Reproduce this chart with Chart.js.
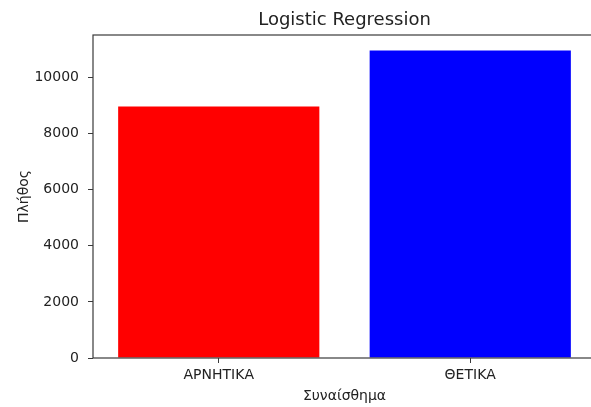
<!DOCTYPE html>
<html>
<head>
<meta charset="utf-8">
<script src="https://cdn.jsdelivr.net/npm/chart.js@4/dist/chart.umd.min.js"></script>
<style>
  html, body { margin: 0; padding: 0; overflow: hidden; background: #fff; }
</style>
</head>
<body>
<canvas id="myChart" width="604" height="407"></canvas>
<script>
// values
const categories = ['ΑΡΝΗΤΙΚΑ', 'ΘΕΤΙΚΑ'];
const counts = [8960, 10960];
const barColors = ['#ff0000', '#0000ff'];
const yTicks = [0, 2000, 4000, 6000, 8000, 10000];
const chartTitle = 'Logistic Regression';

const FONT = "'DejaVu Sans', sans-serif";
const TEXT = '#222';
const SPINE = '#3a3a3a';

// box round the plot area + title centred over the axes (matplotlib style)
const spines = {
  id: 'spines',
  afterDatasetsDraw(chart) {
    const { ctx, chartArea: a } = chart;
    ctx.save();
    ctx.strokeStyle = SPINE;
    ctx.lineWidth = 1.2;
    ctx.strokeRect(a.left, a.top, a.right - a.left, a.bottom - a.top);
    ctx.fillStyle = TEXT;
    ctx.font = "18px " + FONT;
    ctx.textAlign = 'center';
    ctx.textBaseline = 'middle';
    ctx.fillText(chartTitle, (a.left + a.right) / 2, 20);
    ctx.restore();
  }
};

const ctx = document.getElementById('myChart').getContext('2d');
new Chart(ctx, {
  type: 'bar',
  data: {
    labels: categories,
    datasets: [{
      label: 'Πλήθος',
      data: counts,
      backgroundColor: barColors,
      borderWidth: 0,
      barPercentage: 0.8,
      categoryPercentage: 1.0
    }]
  },
  options: {
    responsive: false,
    animation: false,
    layout: { padding: { left: 0, right: 8, top: 35, bottom: 0 } },
    plugins: {
      legend: { display: false },
      tooltip: { enabled: false },
      title: { display: false }
    },
    scales: {
      x: {
        offset: true,
        grid: { offset: false, drawOnChartArea: false, drawTicks: true, tickLength: 5, color: SPINE },
        border: { display: false },
        ticks: { color: TEXT, font: { family: FONT, size: 14 }, padding: 4, maxRotation: 0 },
        title: {
          display: true,
          text: 'Συναίσθημα',
          color: TEXT,
          font: { family: FONT, size: 14 },
          padding: { top: 0, bottom: 2 }
        },
        afterFit(scale) { scale.height = 49; }
      },
      y: {
        min: 0,
        max: 11510,
        afterBuildTicks(scale) { scale.ticks = yTicks.map(v => ({ value: v })); },
        grid: { drawOnChartArea: false, drawTicks: true, tickLength: 5, color: SPINE },
        border: { display: false },
        ticks: {
          color: TEXT,
          font: { family: FONT, size: 14 },
          padding: 9,
          callback: v => String(v)
        },
        title: {
          display: true,
          text: 'Πλήθος',
          color: TEXT,
          font: { family: FONT, size: 14 },
          padding: { top: 16, bottom: 0 }
        },
        afterFit(scale) { scale.width = 93; }
      }
    }
  },
  plugins: [spines]
});
</script>
</body>
</html>
